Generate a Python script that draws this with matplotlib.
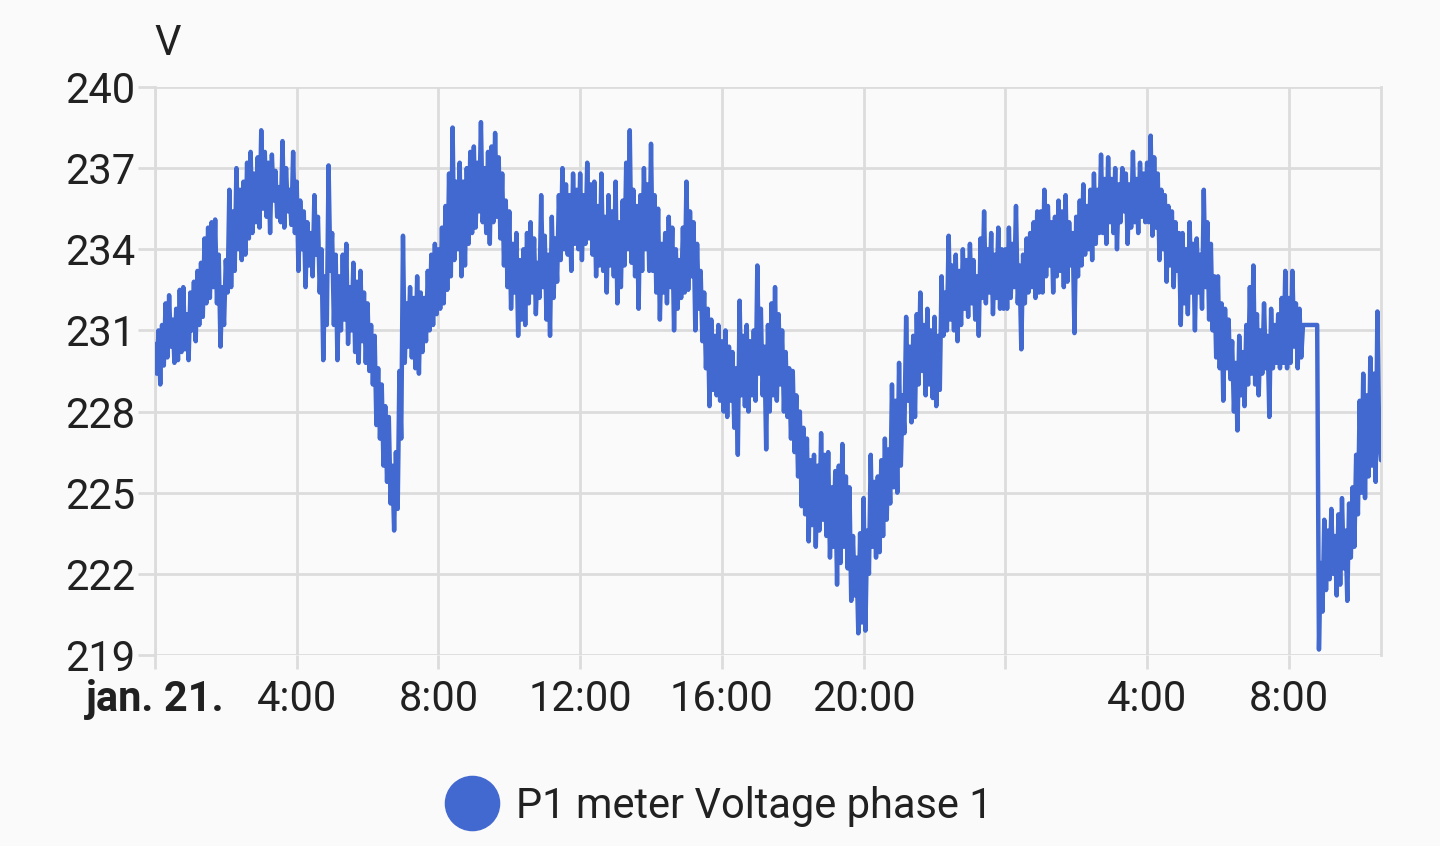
import numpy as np
import matplotlib.pyplot as plt
from matplotlib.lines import Line2D

plt.rcParams['font.family'] = ['Roboto', 'DejaVu Sans']

# voltage samples, one every 3 minutes, starting jan. 21. 0:00
voltage = [
    # 0:00
    230.5, 229.4, 231.0, 229.0, 231.2, 229.7, 232.0, 230.0, 232.3, 230.4,
    231.4, 229.8, 231.8, 229.9, 232.5, 230.2, 232.6, 230.3, 231.6, 229.9,
    # 1:00
    232.4, 231.0, 232.8, 230.6, 233.2, 231.2, 233.5, 231.5, 234.4, 232.0,
    234.8, 232.2, 235.0, 232.6, 235.1, 232.0, 233.8, 230.4, 232.6, 231.2,
    # 2:00
    233.6, 232.4, 236.2, 232.6, 235.4, 233.2, 237.0, 234.0, 236.2, 233.6,
    236.5, 233.8, 237.2, 234.4, 237.6, 234.6, 236.8, 235.0, 237.4, 234.8,
    # 3:00
    238.4, 235.5, 237.6, 235.2, 237.2, 234.6, 237.5, 235.8, 236.9, 235.2,
    236.3, 235.0, 238.0, 234.8, 237.0, 235.4, 236.2, 234.9, 237.6, 234.6,
    # 4:00
    236.5, 233.2, 235.8, 234.0, 235.4, 232.6, 235.0, 233.4, 234.6, 233.0,
    236.0, 233.8, 235.2, 232.4, 234.0, 229.9, 233.0, 231.2, 237.1, 233.2,
    # 5:00
    234.6, 231.2, 233.8, 229.9, 233.0, 231.0, 233.8, 231.4, 234.2, 230.5,
    232.6, 231.0, 233.5, 230.2, 232.8, 229.8, 233.2, 230.6, 232.4, 229.8,
    # 6:00
    232.0, 229.5, 231.2, 229.0, 230.8, 227.5, 229.6, 227.0, 229.0, 226.0,
    228.2, 225.4, 227.8, 224.6, 226.0, 223.6, 226.5, 224.4, 229.5, 227.0,
    # 7:00
    234.5, 229.8, 232.0, 230.4, 232.6, 230.0, 232.2, 229.6, 233.0, 229.4,
    232.4, 230.2, 232.2, 230.6, 233.2, 231.0, 233.8, 231.2, 234.2, 231.6,
    # 8:00
    234.0, 231.8, 234.8, 232.0, 235.6, 232.5, 236.8, 233.0, 238.5, 233.6,
    236.5, 234.0, 237.2, 233.0, 236.5, 233.4, 237.0, 234.2, 237.6, 234.6,
    # 9:00
    237.8, 234.8, 237.2, 235.4, 238.7, 235.0, 237.0, 234.6, 237.6, 234.2,
    237.8, 235.0, 238.3, 235.2, 237.4, 234.4, 236.8, 233.4, 235.8, 232.6,
    # 10:00
    235.4, 231.8, 234.2, 232.4, 234.6, 230.8, 233.6, 231.4, 234.0, 231.2,
    234.6, 232.0, 235.0, 232.4, 234.4, 231.6, 233.5, 232.2, 236.0, 232.6,
    # 11:00
    234.5, 231.4, 233.8, 230.8, 235.2, 232.2, 234.4, 232.8, 236.0, 233.6,
    237.0, 234.0, 236.4, 233.8, 236.0, 233.2, 236.8, 234.2, 236.2, 234.0,
    # 12:00
    236.8, 233.6, 236.0, 234.2, 237.2, 234.4, 236.4, 233.8, 236.5, 233.0,
    235.6, 233.4, 236.8, 233.2, 235.2, 232.4, 236.0, 233.4, 235.4, 233.0,
    # 13:00
    236.5, 232.0, 235.0, 232.6, 235.8, 233.4, 237.2, 234.0, 238.4, 233.5,
    236.2, 233.0, 235.6, 231.8, 236.0, 233.2, 237.0, 234.0, 236.4, 233.2,
    # 14:00
    237.9, 233.2, 236.0, 232.4, 235.5, 231.4, 234.2, 232.4, 234.6, 232.0,
    235.2, 232.6, 234.8, 231.0, 234.0, 231.8, 233.6, 232.2, 234.8, 232.4,
    # 15:00
    236.5, 232.5, 235.4, 233.0, 235.0, 231.0, 234.2, 231.8, 233.2, 230.6,
    232.4, 229.6, 231.8, 228.2, 231.4, 228.8, 230.8, 228.6, 231.2, 228.4,
    # 16:00
    230.6, 228.0, 231.0, 227.8, 230.4, 228.4, 230.2, 227.4, 229.6, 226.4,
    232.1, 228.6, 230.8, 228.2, 231.2, 228.0, 230.6, 228.6, 231.0, 228.4,
    # 17:00
    233.4, 229.4, 231.8, 228.6, 230.4, 226.6, 231.2, 228.0, 232.0, 228.6,
    232.6, 228.4, 231.6, 229.0, 231.0, 228.0, 230.2, 227.8, 229.6, 227.0,
    # 18:00
    229.5, 226.5, 228.6, 225.6, 228.0, 224.5, 227.4, 224.2, 227.0, 223.2,
    226.2, 223.8, 226.4, 223.0, 226.0, 223.6, 227.2, 224.0, 226.4, 223.4,
    # 19:00
    226.5, 222.6, 225.2, 223.0, 225.8, 221.6, 226.0, 222.4, 226.8, 223.0,
    225.6, 222.2, 225.2, 221.0, 223.4, 221.2, 222.6, 219.8, 223.5, 220.2,
    # 20:00
    224.8, 219.9, 223.6, 222.0, 226.4, 223.0, 225.4, 222.6, 225.6, 222.8,
    226.2, 223.4, 227.0, 224.0, 226.6, 224.6, 229.0, 225.2, 228.4, 225.0,
    # 21:00
    229.8, 226.0, 228.6, 227.2, 231.5, 228.4, 230.4, 227.6, 230.8, 227.8,
    231.6, 229.0, 232.4, 229.5, 231.2, 228.6, 231.8, 229.0, 231.0, 228.5,
    # 22:00
    231.5, 228.2, 230.8, 228.8, 233.0, 230.8, 232.4, 231.0, 234.5, 231.4,
    233.4, 231.0, 233.8, 230.6, 233.2, 231.2, 234.0, 231.8, 233.6, 231.5,
    # 23:00
    234.2, 232.0, 233.6, 231.4, 233.0, 230.8, 234.4, 232.2, 235.4, 232.0,
    234.0, 232.4, 234.6, 231.6, 233.8, 232.2, 234.8, 231.8, 234.0, 231.8,
    # 0:00 (jan. 22.)
    234.0, 231.8, 234.8, 232.2, 234.2, 232.6, 235.6, 232.0, 233.4, 230.3,
    233.8, 232.0, 234.4, 232.4, 234.6, 232.6, 235.0, 232.2, 235.4, 232.4,
    # 1:00
    235.4, 232.4, 236.2, 233.0, 235.6, 233.4, 235.0, 232.4, 235.2, 233.0,
    235.8, 233.2, 235.4, 232.6, 236.0, 232.8, 235.0, 233.4, 234.6, 230.9,
    # 2:00
    235.2, 233.0, 235.8, 233.4, 236.4, 233.8, 235.6, 234.0, 236.2, 233.6,
    236.8, 234.2, 236.2, 234.6, 237.5, 234.6, 236.6, 234.2, 237.4, 235.0,
    # 3:00
    236.6, 234.6, 237.0, 234.0, 236.4, 235.0, 237.0, 235.4, 236.8, 234.2,
    236.4, 234.8, 237.6, 235.0, 236.6, 234.6, 237.2, 235.2, 236.8, 235.0,
    # 4:00
    237.2, 235.0, 238.2, 234.5, 237.4, 234.8, 236.8, 233.6, 236.2, 234.0,
    236.0, 232.8, 235.6, 233.4, 235.4, 232.6, 235.0, 233.2, 234.6, 231.2,
    # 5:00
    234.6, 232.0, 234.0, 231.6, 235.0, 232.4, 234.2, 231.0, 234.4, 232.4,
    233.8, 231.8, 236.2, 232.6, 235.0, 231.4, 234.2, 231.0, 233.0, 230.0,
    # 6:00
    233.0, 229.6, 232.0, 228.4, 231.8, 229.6, 231.4, 229.2, 230.6, 228.0,
    229.8, 227.3, 230.8, 228.6, 230.2, 228.2, 231.2, 229.0, 232.6, 229.4,
    # 7:00
    233.4, 229.0, 231.6, 228.6, 231.0, 229.4, 232.0, 229.6, 230.8, 227.8,
    231.8, 229.6, 231.2, 229.8, 231.6, 229.6, 232.2, 229.8, 233.2, 229.6,
    # 8:00
    232.2, 229.8, 233.2, 230.4, 232.0, 229.6, 231.8, 230.0, 231.2, 231.2,
    231.2, 231.2, 231.2, 231.2, 231.2, 231.2, 231.2, 219.2, 222.4, 220.6,
    # 9:00
    224.0, 221.4, 223.6, 221.8, 224.4, 222.0, 223.4, 221.2, 224.2, 221.6,
    224.8, 222.2, 223.6, 221.0, 224.6, 222.6, 225.2, 223.0, 226.4, 224.2,
    # 10:00
    228.4, 225.0, 229.4, 224.8, 228.6, 225.6, 230.0, 226.0, 229.4, 225.4,
    231.7, 227.0, 226.2,
]
hours = np.arange(len(voltage)) * 0.05

tick_hours = [0, 4, 8, 12, 16, 20, 24, 28, 32]
tick_labels = ['jan. 21.', '4:00', '8:00', '12:00', '16:00', '20:00', '', '4:00', '8:00']
y_ticks = [219, 222, 225, 228, 231, 234, 237, 240]

bg = '#fafafa'
grid_c = '#dcdcdc'
line_c = '#4269d0'
text_c = '#212121'
fs = 30

fig = plt.figure(figsize=(14.4, 8.46), dpi=100, facecolor=bg)
ax = fig.add_axes([0.1076, 0.2258, 0.8514, 0.6714], facecolor=bg)

ax.plot(hours, voltage, color=line_c, lw=3.2, solid_joinstyle='round',
        solid_capstyle='round', zorder=3)

ax.set_xlim(0, 34.6)
ax.set_ylim(219, 240)
ax.set_xticks(tick_hours)
ax.set_xticklabels(tick_labels)
ax.set_yticks(y_ticks)
ax.grid(True, color=grid_c, lw=2.0)
ax.set_axisbelow(True)

for side in ['top', 'bottom']:
    ax.spines[side].set_visible(False)
for side in ['left', 'right']:
    ax.spines[side].set_color(grid_c)
    ax.spines[side].set_linewidth(2.0)

ax.tick_params(axis='x', length=10, width=2.0, color=grid_c, pad=7,
               labelsize=fs, labelcolor=text_c)
ax.tick_params(axis='y', length=12, width=2.0, color=grid_c, pad=2,
               labelsize=fs, labelcolor=text_c)
ax.get_xticklabels()[0].set_fontweight('bold')

fig.text(0.1167, 0.949, 'V', fontsize=fs, color=text_c, ha='center', va='center')

handle = Line2D([], [], ls='none', marker='o', markersize=39, color=line_c)
fig.legend([handle], ['P1 meter Voltage phase 1'], loc='center',
           bbox_to_anchor=(0.494, 0.047), frameon=False, fontsize=fs,
           handletextpad=0.05, labelcolor=text_c)

fig.savefig('out.png', dpi=100, facecolor=bg)
